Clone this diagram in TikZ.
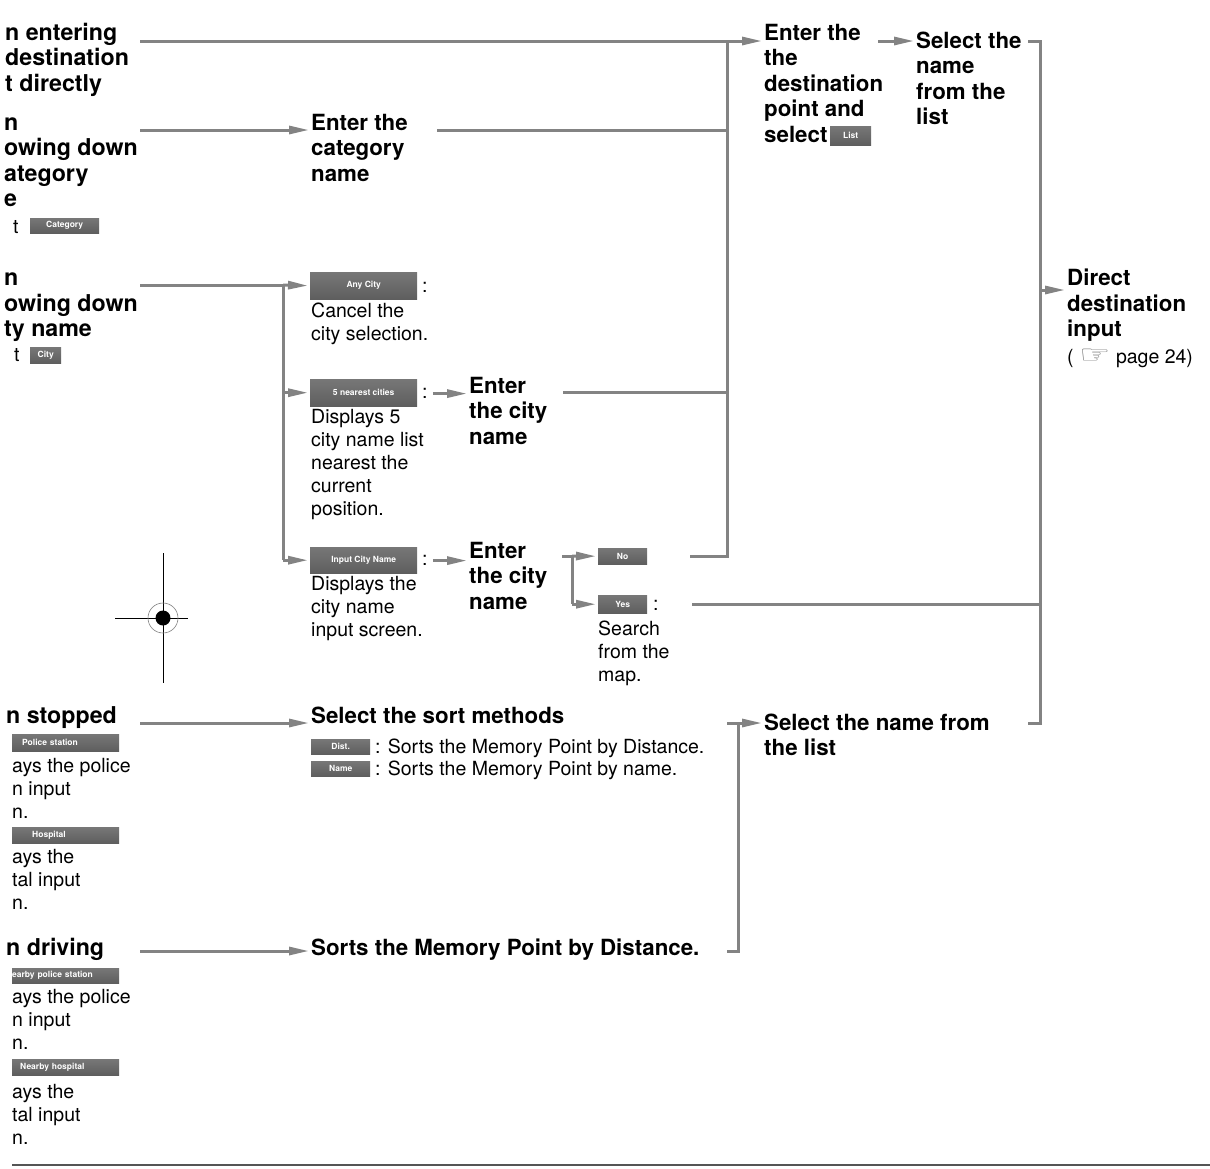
\documentclass[tikz,border=0pt]{standalone}
\usepackage{fontspec}
\usepackage{graphicx}
\setmainfont{TeX Gyre Heros}
\newfontfamily\handfont{DejaVu Sans}
\usetikzlibrary{arrows.meta}

\definecolor{wiregray}{HTML}{838383}
\definecolor{btntop}{HTML}{777777}
\definecolor{btnbot}{HTML}{5E5E5E}
\definecolor{rulegray}{HTML}{555555}

\newcommand{\headfont}{\fontsize{22.3}{25.5}\selectfont\bfseries}
\newcommand{\leftfont}{\fontsize{23.2}{25.5}\selectfont\bfseries}
\newcommand{\notefont}{\fontsize{19.5}{23}\selectfont}
\newcommand{\btnfont}{\fontsize{8.5}{9}\selectfont\bfseries}

\begin{document}
\begin{tikzpicture}[
   x=1pt,
   y=-1pt,
   >={Triangle[length=20pt,width=8pt]},
   wire/.style={draw=wiregray, line width=3pt},
   flow/.style={wire, ->, shorten >=2pt},
   head/.style={
      anchor=north west,
      inner sep=0pt,
      align=left,
      font=\headfont,
      yshift=17.85pt
   },
   lefthead/.style={head, font=\leftfont},
   note/.style={
      anchor=north west,
      inner sep=0pt,
      align=left,
      font=\notefont,
      yshift=16.1pt
   },
   btn/.style={
      anchor=north west,
      inner sep=0pt,
      top color=btntop,
      bottom color=btnbot,
      text=white,
      font=\btnfont
   },
   leftbtn/.style={btn, text width=107pt, align=left}
]

   \useasboundingbox (0,0) rectangle (1210,1168);
   \clip (0,0) rectangle (1210,1168);

   % Left column
   \node[lefthead] (l1) at (5,40) {\strut n entering\\destination\\t directly};

   \node[lefthead] (l2) at (4,130) {\strut n\\owing down\\ategory\\e};
   \node[note] (l2sel) at (13,233) {\strut t};
   \node[btn, minimum width=69pt, minimum height=15pt] (catbtn) at (30,218) {Category};

   \node[lefthead] (l3) at (4,285.5) {\strut n\\owing down\\ty name};
   \node[note] (l3sel) at (14,361) {\strut t};
   \node[btn, minimum width=31pt, minimum height=16pt] (citybtn) at (30,347) {City};

   \node[lefthead] (l4) at (6,723) {\strut n stopped};
   \node[leftbtn, minimum height=17pt] (polbtn) at (12,734) {\hspace*{10pt}Police station};
   \node[note] (l4a) at (12,772) {\strut ays the police\\n input\\n.};
   \node[leftbtn, minimum height=16pt] (hospbtn) at (12,827) {\hspace*{20pt}Hospital};
   \node[note] (l4b) at (12,863) {\strut ays the\\tal input\\n.};

   \node[lefthead] (l5) at (6,955) {\strut n driving};
   \node[leftbtn, minimum height=15pt] (npolbtn) at (12,968) {earby police station};
   \node[note] (l5a) at (12,1003) {\strut ays the police\\n input\\n.};
   \node[leftbtn, minimum height=16pt] (nhospbtn) at (12,1059) {\hspace*{8pt}Nearby hospital};
   \node[note] (l5b) at (12,1098) {\strut ays the\\tal input\\n.};

   % Category
   \node[head] (cat) at (311,130) {\strut Enter the\\category\\name};

   % City choices
   \node[btn, minimum width=107pt, minimum height=27pt] (anycity) at (310,272) {Any City};
   \node[note] (col1) at (422,292) {\strut :};
   \node[note] (anytxt) at (311,317) {\strut Cancel the\\city selection.};

   \node[btn, minimum width=107pt, minimum height=27pt] (near5) at (310,379) {5 nearest cities};
   \node[note] (col2) at (422,398) {\strut :};
   \node[note] (neartxt) at (311,423) {\strut Displays 5\\city name list\\nearest the\\current\\position.};
   \node[head] (city1) at (469,393) {\strut Enter\\the city\\name};

   \node[btn, minimum width=107pt, minimum height=26pt] (inputcity) at (310,547) {Input City Name};
   \node[note] (col3) at (422,565) {\strut :};
   \node[note] (inputtxt) at (311,590) {\strut Displays the\\city name\\input screen.};
   \node[head] (city2) at (469,558) {\strut Enter\\the city\\name};

   \node[btn, minimum width=49pt, minimum height=16pt] (nobtn) at (598,548) {No};
   \node[btn, minimum width=49pt, minimum height=18pt] (yesbtn) at (598,595) {Yes};
   \node[note] (col4) at (653,610) {\strut :};
   \node[note] (yestxt) at (598,635) {\strut Search\\from the\\map.};

   % Sort methods
   \node[head] (sortsel) at (311,723) {\strut Select the sort methods};
   \node[btn, minimum width=59pt, minimum height=15pt] (distbtn) at (311,739) {Dist.};
   \node[note] (disttxt) at (375,753) {\strut : Sorts the Memory Point by Distance.};
   \node[btn, minimum width=59pt, minimum height=15pt] (namebtn) at (311,761) {Name};
   \node[note] (nametxt) at (375,775) {\strut : Sorts the Memory Point by name.};

   \node[head] (sortdist) at (311,955) {\strut Sorts the Memory Point by Distance.};

   % Right side
   \node[head] (dest) at (764,40) {\strut Enter the\\the\\destination\\point and\\select};
   \node[btn, minimum width=41pt, minimum height=19pt] (listbtn) at (830,126) {List};
   \node[head] (sel) at (916,48) {\strut Select the\\name\\from the\\list};
   \node[head] (selname) at (764,730) {\strut Select the name from\\the list};
   \node[head] (direct) at (1067,285.5) {\strut Direct\\destination\\input};
   \node[note] (pageref) at (1067,363)
   {
      \strut( {\handfont\color{wiregray}\scalebox{1.8}[1.3]{☞}} page 24)
   };

   % Junction points
   \coordinate (l1out) at (140,41);
   \coordinate (l2out) at (140,130);
   \coordinate (l3out) at (140,285);
   \coordinate (l4out) at (140,723);
   \coordinate (l5out) at (140,951);
   \coordinate (jcity) at (283,285);
   \coordinate (jtop) at (727,41);
   \coordinate (catout) at (437,130);
   \coordinate (city1out) at (563,392);
   \coordinate (c2out) at (562,556);
   \coordinate (jyn) at (572,556);
   \coordinate (noout) at (690,556);
   \coordinate (yesout) at (692,604);
   \coordinate (destout) at (878,41);
   \coordinate (selout) at (1028,41);
   \coordinate (rtop) at (1040,41);
   \coordinate (rbot) at (1040,723);
   \coordinate (rarrow) at (1040,290);
   \coordinate (selnameout) at (1028,723);
   \coordinate (sbtop) at (727,723);
   \coordinate (sortout) at (727,951);
   \coordinate (sjoin) at (738,951);

   % Connectors
   \draw[flow] (l1out) -- (l1out -| dest.west);
   \draw[flow] (l2out) -- (l2out -| cat.west);
   \draw[wire] (catout) -- (catout -| jtop);
   \draw[wire] (noout) -| (jtop);
   \draw[wire] (city1out) -- (city1out -| jtop);

   \draw[wire] (l3out) -- (jcity) -- (jcity |- inputcity.west);
   \draw[flow] (jcity) -- (anycity.west);
   \draw[flow] (jcity |- near5.west) -- (near5.west);
   \draw[flow] (jcity |- inputcity.west) -- (inputcity.west);

   \draw[flow, shorten <=5pt] (col2.east) -- (col2.east -| city1.west);
   \draw[flow, shorten <=5pt] (col3.east) -- (col3.east -| city2.west);

   \draw[wire] (c2out) -- (jyn) -- (jyn |- yesbtn.west);
   \draw[flow] (jyn) -- (nobtn.west);
   \draw[flow] (jyn |- yesbtn.west) -- (yesbtn.west);
   \draw[wire] (yesout) -- (yesout -| rtop);

   \draw[flow] (destout) -- (destout -| sel.west);
   \draw[wire] (selout) -- (rtop) -- (rbot) -- (selnameout);
   \draw[flow] (rarrow) -- (rarrow -| direct.west);

   \draw[flow] (l4out) -- (l4out -| sortsel.west);
   \draw[flow] (l5out) -- (l5out -| sortdist.west);
   \draw[wire] (sortout) -- (sjoin) -- (sjoin |- sbtop);
   \draw[flow] (sbtop) -- (sbtop -| selname.west);

   % Registration mark
   \draw[line width=0.8pt] (163,553) -- (163,683) (115,618) -- (188,618);
   \draw[gray, line width=0.6pt] (163,618) circle[radius=15];
   \fill (163,618) circle[radius=7.5];

   % Bottom rule
   \draw[rulegray, line width=2.5pt] (12,1165) -- (1210,1165);

\end{tikzpicture}
\end{document}
